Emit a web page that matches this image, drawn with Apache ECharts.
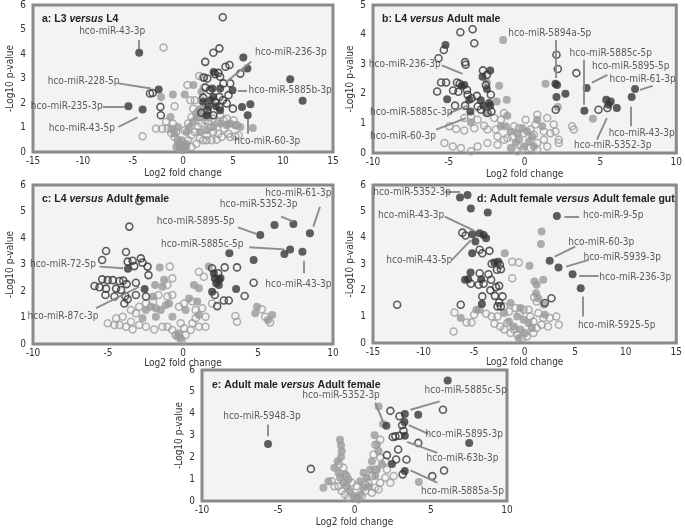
<!DOCTYPE html>
<html><head><meta charset="utf-8">
<script src="https://cdn.jsdelivr.net/npm/echarts@6/dist/echarts.min.js"></script>
<style>html,body{margin:0;padding:0;background:#fff}#c{width:685px;height:528px}</style>
</head><body><div id="c"></div>
<script>
// ---------- Panel a: L3 versus L4 ----------
const aDarkFilled = [[-4.38,4.05],[-2.43,2.55],[-5.46,1.87],[-4.04,1.73],[6.03,3.86],[6.44,3.41],[10.72,2.97],[11.96,2.09],[4.95,2.52],[5.90,1.84],[6.74,1.95],[6.47,1.50],[3.07,3.27],[2.93,2.59],[3.71,2.59],[3.03,2.25],[2.02,2.05],[2.53,1.84],[3.30,1.87],[2.36,1.50],[3.71,1.70],[2.76,2.11]];
const aDarkHollow = [[3.98,5.50],[3.64,4.23],[3.03,4.05],[2.22,3.68],[4.65,3.55],[4.25,3.48],[3.20,3.18],[3.54,3.23],[5.73,3.20],[3.71,3.07],[2.09,3.04],[2.43,3.00],[4.72,2.80],[4.04,2.80],[2.26,2.63],[4.55,2.32],[3.64,2.25],[2.02,2.22],[3.98,2.11],[3.20,2.05],[4.99,1.77],[3.64,1.84],[2.43,1.70],[1.85,1.60],[3.03,1.50],[-3.03,2.41],[-3.30,2.39],[-2.26,1.84],[-2.22,1.50],[4.38,1.98],[2.70,2.52]];
const aGreyFilled = [[-2.19,2.25],[-1.01,2.35],[0.17,2.35],[1.04,2.73],[-1.25,1.43],[1.69,1.76],[1.85,2.46],[4.72,1.16],[6.98,0.98],[0.34,0.82],[0.67,1.02],[1.01,1.23],[1.35,1.43],[-0.17,0.48],[-0.67,0.20],[-0.34,0.14],[0.00,0.07],[0.17,0.14],[-0.84,0.75],[-1.18,0.95],[-0.51,1.02],[1.69,0.82],[2.36,0.89],[3.03,1.02],[3.71,1.16],[4.38,1.09],[2.09,1.43],[2.53,1.57],[1.52,1.64],[5.22,1.09],[5.73,1.02],[-0.07,0.27],[0.34,0.34],[-0.51,0.41]];
const aGreyHollow = [[-1.95,4.27],[0.44,2.73],[1.62,3.10],[1.95,3.04],[2.09,2.63],[-0.84,1.87],[-2.70,0.95],[-2.09,0.95],[-4.04,0.64],[-1.52,0.95],[-1.18,0.78],[-0.84,0.61],[-0.51,0.48],[-0.34,0.31],[-0.17,0.14],[0.27,0.20],[0.51,0.48],[0.84,0.68],[1.18,0.82],[1.52,1.02],[1.85,1.16],[2.19,1.30],[2.53,1.23],[2.76,1.02],[3.03,0.82],[3.54,0.75],[3.88,0.61],[4.11,0.95],[4.55,0.75],[4.72,0.61],[5.22,0.64],[5.56,0.68],[1.69,0.55],[2.02,0.48],[2.36,0.48],[2.86,0.48],[3.37,0.50],[5.06,1.30],[5.39,1.09],[4.38,1.36],[3.71,1.50],[4.04,1.30],[1.69,1.43],[1.35,1.57],[1.01,1.77],[0.74,2.11],[1.18,2.11],[1.85,2.11],[2.09,1.70],[2.53,1.43],[3.03,1.36],[3.54,1.23],[0.84,1.43],[0.51,1.16],[0.17,0.89],[-0.67,0.82],[-1.01,1.16],[-1.69,1.23],[1.35,0.34],[0.84,0.20],[2.36,0.68]];
const aNotes = [["hco-miR-43-3p",-7.08,4.91,-4.38,4.57,-4.38,4.19],["hco-miR-228-5p",-9.94,2.89,-6.47,2.80,-3.20,2.59],["hco-miR-235-3p",-11.63,1.88,-8.02,1.84,-5.80,1.84],["hco-miR-43-5p",-10.11,0.95,-6.47,1.02,-4.55,1.41],["hco-miR-236-3p",10.79,4.07,6.81,3.68,4.31,2.86],["hco-miR-5885b-3p",10.72,2.52,6.40,2.52,5.49,2.52],["hco-miR-60-3p",8.43,0.44,6.47,0.75,6.47,1.36]];

// ---------- Panel b: L4 versus Adult male ----------
const bDarkFilled = [[-5.22,3.65],[-2.78,2.58],[-2.27,2.79],[-3.98,2.30],[-4.15,2.27],[-2.49,2.16],[-5.11,1.82],[-3.58,1.40],[-3.65,1.80],[-2.89,1.78],[-2.71,1.60],[-2.27,1.60],[-2.34,1.69],[2.03,2.34],[2.10,1.89],[2.69,2.00],[4.09,2.20],[3.94,1.43],[5.38,1.80],[5.68,1.74],[5.53,1.63],[6.08,1.52],[7.06,1.89],[7.28,2.16],[2.14,2.30]];
const bDarkHollow = [[-4.24,4.08],[-3.43,4.18],[-3.32,3.71],[-5.33,3.48],[-5.68,3.20],[-3.93,3.07],[-3.89,2.98],[-2.75,2.79],[-2.49,2.64],[-5.51,2.38],[-5.18,2.38],[-4.46,2.38],[-4.28,2.34],[-5.77,2.08],[-4.72,2.11],[-4.37,2.07],[-3.80,2.13],[-3.76,1.97],[-3.50,1.85],[-3.15,1.93],[-4.59,1.60],[-3.93,1.60],[-3.10,1.57],[-2.19,1.40],[-2.45,1.35],[-2.89,1.46],[-2.56,2.30],[2.10,3.32],[2.19,2.84],[3.41,2.70],[2.05,1.46],[4.87,1.46],[5.46,1.52],[-2.23,1.97]];
const bGreyFilled = [[-1.42,3.82],[-2.49,2.38],[-1.68,2.27],[1.38,2.34],[-1.84,1.74],[-1.18,1.80],[-2.56,1.35],[-3.54,1.03],[-1.14,1.26],[2.19,1.55],[4.50,1.16],[-1.57,0.90],[-1.25,0.90],[-0.92,0.73],[-0.48,0.67],[-0.37,0.45],[-0.15,0.84],[0.17,0.73],[0.50,0.56],[0.83,1.12],[1.16,0.90],[-0.59,0.34],[-0.04,0.22],[0.28,0.39],[0.61,0.22],[-0.92,0.17]];
const bGreyHollow = [[-4.96,0.90],[-4.52,0.81],[-3.98,0.76],[-3.32,0.84],[-2.67,0.92],[-2.45,0.79],[-1.90,0.79],[-1.57,1.12],[-1.36,1.35],[-2.01,1.18],[-3.10,1.12],[-3.54,1.24],[-3.98,1.18],[-5.29,0.34],[-4.74,0.22],[-4.20,0.17],[-3.54,0.06],[-3.10,0.22],[-2.45,0.34],[-1.79,0.28],[-1.36,0.45],[-1.14,0.51],[-0.81,0.56],[-0.70,0.90],[-0.37,0.84],[-0.04,0.67],[0.39,0.79],[0.83,1.29],[1.49,1.18],[1.92,0.96],[1.70,0.67],[2.03,0.73],[2.25,0.45],[3.13,0.90],[3.24,0.79],[2.25,0.34],[1.27,0.45],[0.83,0.34],[0.39,0.17],[-0.15,0.11],[-0.48,0.06],[0.83,0.11],[1.49,0.22],[1.27,0.73],[0.72,0.96],[0.07,1.12],[0.61,0.62],[-1.79,0.56]];
const bNotes = [["hco-miR-5894a-5p",1.66,4.04,2.03,3.82,2.03,2.53],["hco-miR-5885c-5p",5.68,3.37,3.93,3.15,3.93,1.63],["hco-miR-5895-5p",7.00,2.92,5.46,2.64,4.44,2.38],["hco-miR-61-3p",7.78,2.47,8.44,2.27,7.61,2.13],["hco-miR-43-3p",7.72,0.65,7.00,0.90,7.00,1.57],["hco-miR-5352-3p",5.81,0.25,4.77,0.45,5.42,1.18],["hco-miR-236-3p",-7.91,2.98,-5.46,2.96,-4.09,2.67],["hco-miR-5885c-3p",-7.48,1.37,-4.96,1.35,-3.76,1.60],["hco-miR-60-3p",-8.02,0.56,-5.84,0.79,-3.87,1.18]];

// ---------- Panel c: L4 versus Adult female ----------
const cDarkFilled = [[5.15,4.11],[6.10,4.49],[7.36,4.53],[8.46,4.18],[7.14,3.57],[6.76,3.40],[7.96,3.48],[3.09,3.42],[4.71,3.17],[2.06,2.67],[2.12,2.48],[2.39,2.42],[2.50,2.48],[2.21,2.29],[2.39,2.23],[1.94,1.97],[3.54,2.08],[-3.67,2.84],[-2.56,2.08]];
const cDarkHollow = [[-2.92,5.40],[-3.58,4.43],[-5.13,3.51],[-3.80,3.47],[-5.39,3.17],[-3.69,3.11],[-3.36,3.14],[-2.81,3.23],[-2.70,3.07],[-2.36,2.92],[-3.25,2.94],[-2.30,2.60],[-5.39,2.44],[-5.02,2.41],[-4.68,2.41],[-4.24,2.38],[-3.98,2.39],[-5.90,2.19],[-5.57,2.14],[-5.13,2.09],[-4.46,2.09],[-4.13,2.04],[-3.76,2.26],[-3.14,2.31],[-5.17,1.85],[-4.57,1.79],[-3.85,1.81],[-3.14,1.85],[-2.47,1.79],[-3.91,1.53],[-3.69,1.69],[2.28,1.43],[2.72,1.64],[2.12,1.85],[2.78,2.89],[3.60,2.89],[4.71,2.31],[4.11,1.81],[3.05,1.64],[2.34,2.67],[1.94,2.86]];
const cGreyFilled = [[-1.55,2.89],[-1.37,2.16],[-1.86,2.23],[-1.26,2.42],[-1.99,1.79],[1.72,2.92],[0.73,2.23],[1.06,2.10],[0.40,1.72],[0.18,1.28],[-0.71,1.03],[-0.27,0.40],[-0.15,0.21],[-0.38,0.28],[-1.48,1.28],[-1.81,1.35],[-2.14,1.41],[-2.47,1.28],[-2.70,0.97],[-1.81,1.03],[-1.15,1.47],[-0.93,1.53],[4.93,1.41],[4.82,1.16],[5.66,0.91],[5.94,1.09],[1.06,1.09],[0.95,1.60]];
const cGreyHollow = [[-0.88,2.92],[1.06,2.73],[1.39,2.54],[-0.71,2.48],[-1.04,2.23],[-1.64,1.85],[-1.99,1.60],[-1.04,1.79],[-0.71,1.85],[-0.27,1.41],[0.07,1.53],[0.62,1.60],[0.84,1.28],[1.28,1.35],[1.50,1.03],[1.94,1.53],[3.49,1.06],[3.60,0.84],[5.26,1.31],[5.48,1.03],[5.81,0.81],[-5.02,0.78],[-4.57,0.72],[-4.24,0.72],[-3.80,0.65],[-3.36,0.55],[-3.47,0.84],[-2.92,0.72],[-2.47,0.65],[-1.92,0.55],[-1.37,0.65],[-1.04,0.65],[-0.71,0.53],[-0.49,0.34],[0.18,0.34],[0.51,0.53],[0.62,0.78],[1.06,0.65],[1.50,0.65],[0.07,0.59],[-4.46,0.97],[-4.02,1.03],[-3.14,1.16],[-2.47,1.53],[-2.92,1.41],[-3.47,1.28],[0.84,0.97],[-0.15,0.78],[-0.09,0.09]];
const cNotes = [["hco-miR-61-3p",7.69,5.69,9.13,5.18,8.69,4.43],["hco-miR-5352-3p",5.04,5.25,6.54,4.81,7.36,4.62],["hco-miR-5895-5p",0.84,4.62,3.67,4.40,4.93,4.15],["hco-miR-5885c-5p",1.28,3.74,4.42,3.65,6.76,3.57],["hco-miR-43-3p",7.69,2.23,8.02,2.67,8.02,3.14],["hco-miR-72-5p",-8.00,3.01,-5.57,2.92,-3.98,2.86],["hco-miR-87c-3p",-8.00,1.03,-5.79,1.35,-2.92,2.16]];

// ---------- Panel d: Adult female versus Adult female gut ----------
const dDarkFilled = [[-6.39,5.53],[-5.65,5.62],[-5.32,5.11],[-3.65,4.96],[3.19,4.82],[-5.16,4.13],[-4.45,4.17],[-4.06,4.10],[-3.81,3.98],[-4.87,3.85],[-5.19,3.41],[-3.00,3.06],[-2.61,3.09],[2.48,3.12],[3.35,2.87],[4.74,2.61],[5.55,2.08],[-5.35,2.68],[-5.90,2.40],[-5.58,2.42],[-4.29,2.42],[-4.23,1.48]];
const dDarkHollow = [[-6.16,4.19],[-5.84,4.08],[-4.45,3.54],[-4.19,3.41],[-3.48,3.50],[-3.26,3.01],[-2.45,2.97],[-2.74,2.78],[-2.35,2.80],[-4.45,2.65],[-3.58,2.61],[-5.32,2.25],[-4.55,2.21],[-4.06,2.25],[-3.32,2.40],[-2.84,2.12],[-3.39,2.00],[-2.52,2.17],[-4.19,1.77],[-2.19,1.77],[-2.94,1.79],[-2.52,1.54],[-2.35,1.39],[-6.32,1.45],[-12.61,1.45],[2.65,1.70],[2.00,1.52],[-2.68,1.39]];
const dGreyFilled = [[1.68,4.23],[1.61,3.76],[-1.97,3.41],[0.48,2.93],[1.84,2.40],[0.97,2.34],[1.19,2.21],[1.13,1.89],[1.35,1.70],[-1.39,1.52],[1.90,1.45],[2.00,1.07],[-6.32,0.95],[-4.77,1.26],[-4.45,1.26],[-0.42,1.33],[-0.74,1.01],[-0.10,0.88],[0.39,0.76],[-0.42,0.51],[0.06,0.38],[-0.58,0.19],[-1.06,0.63],[-1.55,0.82],[0.71,0.57],[-2.03,1.14]];
const dGreyHollow = [[-1.23,3.09],[-0.58,3.06],[-1.23,2.46],[0.94,1.74],[1.19,1.58],[-7.03,0.44],[-6.94,1.16],[-5.74,0.78],[-5.26,0.78],[-5.00,1.07],[-3.81,1.11],[-3.26,1.01],[-3.00,0.73],[-2.42,0.63],[-2.03,0.51],[-1.71,0.76],[-1.39,0.38],[-1.06,0.51],[-0.74,0.32],[-0.26,0.19],[0.23,0.25],[0.87,0.38],[1.19,0.57],[1.68,0.69],[2.32,0.63],[3.13,1.01],[3.39,0.69],[2.48,0.95],[1.84,0.95],[0.55,1.01],[-0.10,1.26],[0.39,1.26],[-2.03,1.39],[-1.55,1.20],[-2.68,1.01],[-0.90,1.33],[-0.48,1.14],[0.87,0.82],[1.35,1.14]];
const dNotes = [["hco-miR-5352-3p",-11.13,5.71,-7.84,5.74,-6.39,5.74],["hco-miR-43-3p",-11.23,4.86,-7.90,4.80,-5.00,4.27],["hco-miR-43-5p",-10.42,3.12,-7.19,3.16,-5.32,3.91],["hco-miR-9-5p",8.77,4.84,5.39,4.80,3.94,4.80],["hco-miR-60-3p",7.58,3.81,5.00,3.66,2.97,3.28],["hco-miR-5939-3p",9.65,3.24,6.35,3.16,4.10,2.90],["hco-miR-236-3p",10.94,2.50,7.32,2.55,5.39,2.55],["hco-miR-5925-5p",9.10,0.68,5.71,1.01,5.71,1.77]];

// ---------- Panel e: Adult male versus Adult female ----------
const eDarkFilled = [[6.11,5.52],[3.30,3.98],[4.18,3.95],[3.27,3.62],[2.09,3.45],[3.30,2.99],[7.52,2.66],[-5.67,2.61],[2.46,1.70],[3.30,1.37]];
const eDarkHollow = [[2.35,4.13],[5.80,4.18],[2.95,3.88],[3.12,3.47],[3.21,3.22],[2.51,2.93],[2.68,2.96],[2.95,2.99],[2.86,2.36],[4.18,2.66],[2.13,2.10],[2.73,1.90],[3.41,1.90],[-2.86,1.47],[5.87,1.40],[5.10,1.14],[3.16,1.22]];
const eGreyFilled = [[1.58,4.33],[1.87,3.53],[1.32,3.01],[-0.95,2.81],[-0.88,2.55],[-0.84,2.28],[-0.88,2.01],[-1.10,1.82],[-1.32,1.52],[-1.05,1.29],[-0.95,1.06],[-0.73,0.84],[-0.51,0.68],[-0.29,0.46],[-0.07,0.23],[0.15,0.15],[0.37,0.30],[0.59,0.61],[0.81,1.06],[1.03,1.44],[1.14,1.82],[1.58,2.28],[1.47,2.58],[1.80,1.67],[1.47,1.44],[1.36,1.14],[-2.04,0.61],[-1.71,0.91],[4.22,0.87],[0.92,0.68],[-0.40,0.99],[-0.62,1.22],[0.59,1.29],[0.37,0.91]];
const eGreyHollow = [[-1.49,0.91],[-1.32,0.68],[-1.05,0.68],[-0.84,0.46],[-0.62,0.30],[-0.40,0.15],[0.26,0.08],[0.48,0.23],[0.70,0.46],[0.92,0.84],[1.14,1.14],[1.36,1.44],[1.25,2.13],[1.36,2.58],[1.69,2.81],[1.69,1.98],[2.02,1.82],[2.13,1.44],[2.02,1.06],[2.35,0.84],[2.57,1.14],[1.69,0.84],[1.36,0.61],[1.14,0.38],[1.58,0.53],[0.70,0.76],[0.15,0.68],[-0.18,0.84],[-0.51,1.14],[-0.73,1.52],[-1.01,1.67]];
const eNotes = [["hco-miR-5948-3p",-6.07,3.88,-5.71,3.50,-5.71,2.96],["hco-miR-5352-3p",-0.88,4.83,1.36,4.51,1.91,3.57],["hco-miR-5885c-5p",7.30,5.05,5.58,4.56,3.67,4.18],["hco-miR-5895-3p",7.19,3.04,4.84,3.07,3.56,3.47],["hco-miR-63b-3p",7.08,1.95,5.43,2.20,3.45,2.71],["hco-miR-5885a-5p",7.08,0.46,5.43,0.84,3.67,1.40]];

// ---------- titles & axis ranges ----------
const titles = [["a: L3 ","versus"," L4"],["b: L4 ","versus"," Adult male"],["c: L4 ","versus"," Adult female"],["d: Adult female ","versus"," Adult female gut"],["e: Adult male ","versus"," Adult female"]];
const xRanges = [[-15,15],[-10,10],[-10,10],[-15,15],[-10,10]];
const yMaxes = [6,5,6,6,6];
const xName = "Log2 fold change";
const yName = "-Log10 p-value";

// ---------- layout (pixels) ----------
const grids = [
  {left:33, top:5, width:300, height:147},
  {left:373, top:5, width:309, height:148},
  {left:33, top:185, width:300, height:159},
  {left:373, top:185, width:309, height:158},
  {left:202, top:370, width:305, height:132}
];
const titlePos = [[37,9],[377,9],[37,189],[472,189],[207,375]];
const xNameGaps = [16,16,12,12,16];

const data = [
  [aDarkFilled,aDarkHollow,aGreyFilled,aGreyHollow,aNotes],
  [bDarkFilled,bDarkHollow,bGreyFilled,bGreyHollow,bNotes],
  [cDarkFilled,cDarkHollow,cGreyFilled,cGreyHollow,cNotes],
  [dDarkFilled,dDarkHollow,dGreyFilled,dGreyHollow,dNotes],
  [eDarkFilled,eDarkHollow,eGreyFilled,eGreyHollow,eNotes]
];

const FONT = "'DejaVu Sans Condensed','Liberation Sans Narrow','DejaVu Sans',sans-serif";
const DARK = '#363636', GREY = '#9a9a9a', GREYH = '#9c9c9c';

const option = {animation:false, backgroundColor:'#fff', grid:[], xAxis:[], yAxis:[], series:[], title:[]};
grids.forEach((g,i)=>{
  option.grid.push(Object.assign({show:true, backgroundColor:'#f3f3f3', borderColor:'#8a8a8a', borderWidth:3, containLabel:false}, g));
  option.xAxis.push({gridIndex:i, type:'value', min:xRanges[i][0], max:xRanges[i][1], interval:5,
    axisLine:{show:false}, axisTick:{show:false}, splitLine:{show:false},
    axisLabel:{color:'#333', fontSize:10, fontFamily:FONT, margin:4},
    name:xName, nameLocation:'middle', nameGap:xNameGaps[i], nameTextStyle:{color:'#333', fontSize:10, fontFamily:FONT}});
  option.yAxis.push({gridIndex:i, type:'value', min:0, max:yMaxes[i], interval:1,
    axisLine:{show:false}, axisTick:{show:false}, splitLine:{show:false},
    axisLabel:{color:'#333', fontSize:10, fontFamily:FONT, margin:7},
    name:yName, nameLocation:'middle', nameGap:18, nameTextStyle:{color:'#333', fontSize:10, fontFamily:FONT}});
  const [df,dh,gf,gh,notes] = data[i];
  const base = {type:'scatter', xAxisIndex:i, yAxisIndex:i, silent:true};
  option.series.push(Object.assign({}, base, {data:gh, symbolSize:7, itemStyle:{color:'rgba(0,0,0,0)', borderColor:GREYH, borderWidth:1.5}}));
  option.series.push(Object.assign({}, base, {data:gf, symbolSize:8, itemStyle:{color:GREY}}));
  option.series.push(Object.assign({}, base, {data:dh, symbolSize:7, itemStyle:{color:'rgba(0,0,0,0)', borderColor:DARK, borderWidth:1.6}}));
  option.series.push(Object.assign({}, base, {data:df, symbolSize:8, itemStyle:{color:DARK}}));
  option.series.push(Object.assign({}, base, {
    data: notes.map(n=>({name:n[0], value:[n[1],n[2]]})),
    symbolSize:1, itemStyle:{color:'rgba(0,0,0,0)'}, z:5,
    label:{show:true, position:'inside', formatter:'{b}', color:'#333', fontSize:10, fontFamily:FONT},
    markLine:{silent:true, symbol:['none','arrow'], symbolSize:[0,9], animation:false,
      lineStyle:{color:'#8c8c8c', width:1.9, type:'solid'}, label:{show:false}, emphasis:{disabled:true},
      data: notes.map(n=>[{coord:[n[3],n[4]]},{coord:[n[5],n[6]]}])}
  }));
  option.title.push({left:titlePos[i][0], top:titlePos[i][1],
    text:'{b|'+titles[i][0]+'}{i|'+titles[i][1]+'}{b|'+titles[i][2]+'}',
    textStyle:{rich:{
      b:{fontSize:10.5, fontWeight:'bold', color:'#222', fontFamily:"'Liberation Sans',Arial,sans-serif"},
      i:{fontSize:10.5, fontWeight:'bold', fontStyle:'italic', color:'#222', fontFamily:"'Liberation Sans',Arial,sans-serif"}}}});
});

const chart = echarts.init(document.getElementById('c'), null, {renderer:'canvas'});
chart.setOption(option);
</script></body></html>
